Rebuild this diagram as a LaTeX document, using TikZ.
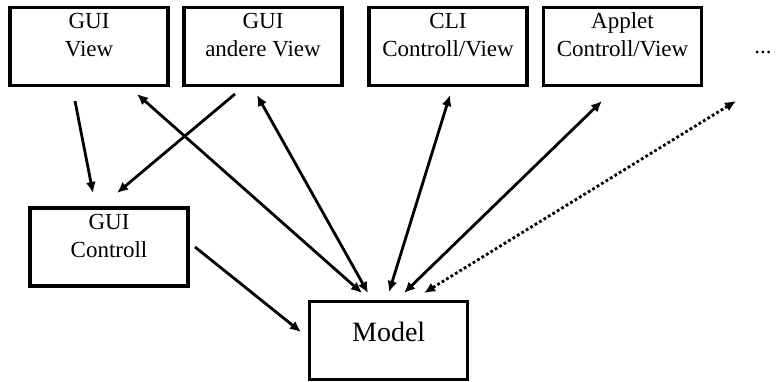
\documentclass[tikz,border=0pt]{standalone}
\usepackage{fontspec}
\setmainfont{Liberation Serif}
\usetikzlibrary{arrows.meta}
\begin{document}
\begin{tikzpicture}[x=1pt,y=-1pt,
  box/.style={draw,line width=3.2pt,minimum width=158pt,minimum height=78pt,inner sep=0pt},
  boxtext/.style={anchor=north,inner sep=0pt,align=center,font=\fontsize{23}{28}\selectfont},
  tip/.style={},
  link/.style={line width=2.8pt,-{Latex[length=11pt,width=10pt]}},
  both/.style={line width=2.8pt,{Latex[length=11pt,width=10pt]}-{Latex[length=11pt,width=10pt]}},
  maybe/.style={both,dash pattern=on 2.8pt off 2.4pt}]
\useasboundingbox (0,0) rectangle (776,381);

% boxes
\node[box] (guiview)    at (89,46.5)    {};
\node[box] (guiother)   at (263,46.5)   {};
\node[box] (cliview)    at (448,46.5)   {};
\node[box] (appletview) at (622.5,46.5) {};
\node[box] (guictrl)    at (109,247)    {};
\node[box] (model)      at (388.7,340.5){};

% box labels
\node[boxtext] (tguiview)    at ([yshift=-2.9pt]guiview.north)    {\strut GUI\\\strut View};
\node[boxtext] (tguiother)   at ([yshift=-2.9pt]guiother.north)   {\strut GUI\\\strut andere View};
\node[boxtext] (tcliview)    at ([yshift=-2.9pt]cliview.north)    {\strut CLI\\\strut Controll/View};
\node[boxtext] (tappletview) at ([yshift=-2.9pt]appletview.north) {\strut Applet\\\strut Controll/View};
\node[boxtext] (tguictrl)    at ([yshift=-2.9pt]guictrl.north)    {\strut GUI\\\strut Controll};
\node[anchor=base,inner sep=0pt,font=\fontsize{28}{33}\selectfont] (tmodel) at (388.7,341) {Model};
\node[anchor=base,inner sep=0pt,font=\fontsize{23}{28}\selectfont] (more) at (763,53) {...};

% connector end points
\coordinate (v1a) at (75,101);   \coordinate (v1b) at (93,193);
\coordinate (v2a) at (235,94);   \coordinate (v2b) at (117,193);
\coordinate (m1a) at (137,94);   \coordinate (m1b) at (362,293);
\coordinate (m2a) at (257,95);   \coordinate (m2b) at (368,293);
\coordinate (m3a) at (450,95);   \coordinate (m3b) at (389,292);
\coordinate (m4a) at (602,101);  \coordinate (m4b) at (404,293);
\coordinate (m5a) at (736,101);  \coordinate (m5b) at (424,293);
\coordinate (c1a) at (195,247);  \coordinate (c1b) at (301,332);

% connectors
\draw[link] (v1a) -- (v1b);
\draw[link] (v2a) -- (v2b);
\draw[both] (m1a) -- (m1b);
\draw[both] (m2a) -- (m2b);
\draw[both] (m3a) -- (m3b);
\draw[both] (m4a) -- (m4b);
\draw[maybe] (m5a) -- (m5b);
\draw[link] (c1a) -- (c1b);
\end{tikzpicture}
\end{document}
